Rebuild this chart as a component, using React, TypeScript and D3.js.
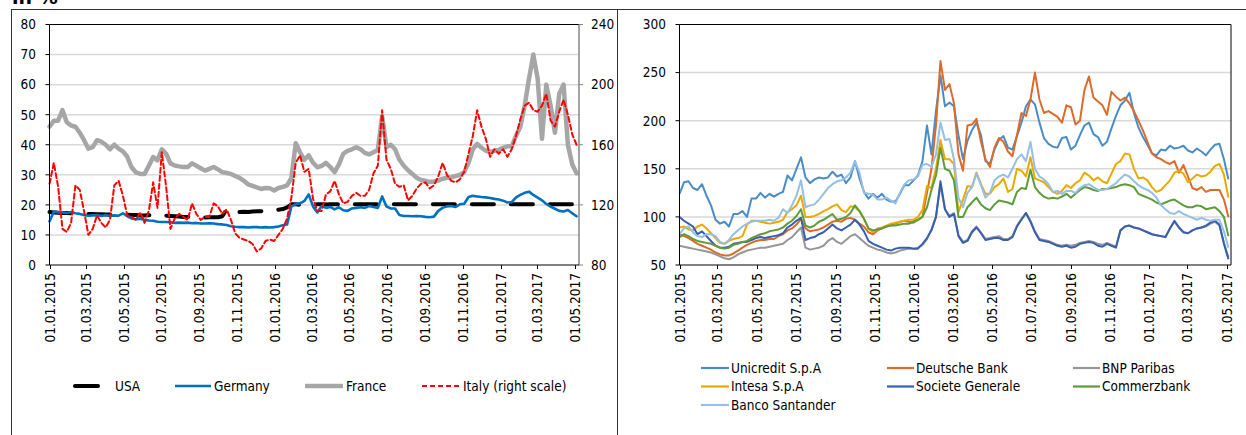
import React from "react";
import * as d3 from "d3";

// ---------- categories ----------
const firstWeek = "2015-01-01";
const weekCount = 123;
const axisEnd = "2017-05-08";
const xTickLabels = [
  "01.01.2015", "01.03.2015", "01.05.2015", "01.07.2015", "01.09.2015",
  "01.11.2015", "01.01.2016", "01.03.2016", "01.05.2016", "01.07.2016",
  "01.09.2016", "01.11.2016", "01.01.2017", "01.03.2017", "01.05.2017",
];
const leftTicks = [0, 10, 20, 30, 40, 50, 60, 70, 80];
const rightTicks = [80, 120, 160, 200, 240];
const bankTicks = [50, 100, 150, 200, 250, 300];

// ---------- left chart series (weekly) ----------
const usa = [
  17.6, 17.5, 17.4, 17.3, 17.3, 17.2, 17.2, 17.1, 17.0, 17.0,
  17.0, 16.9, 16.9, 16.8, 16.8, 16.8, 16.9, 16.8, 16.7, 16.6,
  16.6, 16.5, 16.5, 16.6, 16.5, 16.4, 16.5, 16.4, 16.3, 16.2,
  16.1, 16.0, 16.0, 16.1, 16.0, 15.8, 15.8, 15.9, 15.9, 15.9,
  16.2, 18.5, 17.6, 17.5, 17.6, 17.7, 17.6, 17.8, 17.9, 17.9,
  18.0, 18.1, 18.2, 18.4, 18.6, 19.2, 20.2, 20.2, 20.0, 20.0,
  20.1, 20.1, 20.2, 20.2, 20.1, 20.2, 20.2, 20.2, 20.2, 20.2,
  20.2, 20.2, 20.2, 20.2, 20.2, 20.2, 20.2, 20.2, 20.2, 20.2,
  20.2, 20.2, 20.2, 20.2, 20.2, 20.2, 20.2, 20.2, 20.2, 20.2,
  20.2, 20.2, 20.2, 20.2, 20.2, 20.2, 20.2, 20.2, 20.2, 20.2,
  20.2, 20.2, 20.2, 20.2, 20.2, 20.2, 20.2, 20.2, 20.2, 20.2,
  20.2, 20.2, 20.2, 20.2, 20.2, 20.2, 20.2, 20.2, 20.2, 20.2,
  20.2, 20.2, 20.2,
];
const germany = [
  14.5, 17.8, 17.5, 17.5, 17.3, 17.6, 17.2, 17.0, 16.6, 16.4,
  16.5, 16.6, 16.3, 16.6, 16.3, 16.5, 16.4, 17.2, 16.2, 15.5,
  15.2, 15.4, 15.0, 14.8, 14.7, 14.4, 14.3, 14.3, 14.2, 14.0,
  14.1, 14.0, 14.1, 13.9, 14.0, 13.8, 13.8, 13.9, 13.8, 13.6,
  13.5, 13.3, 12.9, 12.7, 12.6, 12.6, 12.5, 12.6, 12.6, 12.5,
  12.6, 12.5, 12.6, 12.8, 13.2, 13.5, 19.5, 20.2, 20.5, 21.3,
  23.5, 19.5, 17.5, 19.6, 19.0, 19.3, 18.5, 19.2, 18.2, 18.0,
  18.8, 19.0, 19.2, 19.0, 19.6, 19.3, 19.0, 22.8, 19.5, 18.8,
  18.8, 16.6, 16.3, 16.3, 16.2, 16.3, 16.2, 16.0, 15.9, 16.1,
  18.0, 19.0, 19.5, 19.6, 19.3, 20.2, 20.4, 22.6, 23.0, 22.8,
  22.6, 22.5, 22.3, 22.0, 21.8, 21.4, 20.8, 20.9, 22.5, 23.3,
  24.0, 24.4, 23.3, 22.4, 21.5, 20.3, 19.4, 18.7, 18.0, 17.8,
  18.3, 17.2, 16.2,
];
const france = [
  46, 48, 48, 51.5, 47.5, 46.4, 46, 44, 41.5, 38.7,
  39.2, 41.5, 41, 40, 38.5, 40, 38.7, 37.8, 36, 32.5,
  30.8, 30.3, 30.3, 33, 35.9, 34.8, 38.5, 37, 33.8, 33.1,
  32.8, 32.6, 32.6, 33.8, 33, 32.2, 31.4, 32, 32.6, 31.8,
  30.9, 30.6, 30.3, 29.6, 29, 28, 26.8, 26.3, 25.8, 25.3,
  25.6, 25.5, 24.8, 25.6, 26, 26.5, 29, 40.5, 37.5, 35,
  36.5, 34, 32.5, 33, 34, 32.6, 30.9, 33.5, 37, 38,
  38.5, 39.2, 38.5, 37.3, 36.8, 37.5, 38.3, 49.5, 39.2, 40,
  38.5, 35, 33, 31.5, 30.3, 29, 28.3, 28, 27.6, 27.8,
  28.1, 28.7, 29, 29.2, 29.6, 30, 30.9, 34, 38.5, 40.3,
  39, 38, 37.6, 38, 38.3, 39, 39.5, 39.5, 43, 46,
  53, 62, 70, 62, 42, 60, 53, 44, 57, 60,
  40, 33.5, 30.5,
];
const italy = [
  134, 148, 132, 104, 102, 108, 133, 130, 116, 100,
  104, 113, 108, 105, 110, 133, 136, 126, 113, 112,
  110, 115, 108, 116, 135, 118, 155, 132, 104, 111,
  114, 112, 110, 121, 114, 110, 112, 112, 121, 119,
  114, 117, 110, 101, 98, 97, 96, 94, 89, 91,
  96, 97, 96, 100, 104, 111, 125, 148, 153, 142,
  144, 124, 116, 116, 127, 129, 136, 127, 121, 122,
  126, 128, 126, 126, 130, 141, 146, 183, 150, 144,
  134, 132, 133, 123, 126, 131, 134, 135, 131, 133,
  139, 148, 140, 136, 135, 137, 142, 154, 166, 183,
  172, 164, 152, 157, 154, 157, 152, 157, 166, 177,
  186, 188, 183, 182, 186, 194, 176, 172, 182, 190,
  180, 167, 160,
];

// ---------- right chart series (weekly) ----------
const unicredit = [
  124, 136, 137, 130, 128, 134, 122, 112, 97, 93,
  95, 90, 103, 103, 106, 100, 119, 119, 125, 120,
  124, 121, 124, 126, 143, 138, 150, 162, 141, 135,
  139, 141, 140, 141, 147, 142, 144, 135, 141, 158,
  140, 126, 119, 124, 120, 124, 118, 116, 116, 124,
  133, 133, 138, 143, 158, 195, 165, 210, 247, 215,
  219, 215, 185, 160, 179, 190, 198, 185, 158, 155,
  170, 180, 184, 172, 170, 184, 198, 215, 222, 217,
  198, 182, 176, 173, 172, 182, 183, 170, 174, 185,
  195, 198, 186, 183, 174, 178, 192, 205, 216, 221,
  229, 208, 193, 183, 175, 166, 164, 170, 169, 174,
  171, 172, 174, 169, 167, 171, 168, 164, 170, 175,
  176, 160, 139,
];
const deutsche = [
  82, 80, 78, 75, 72, 70, 68, 66, 63, 61,
  60, 60, 62, 65, 68, 71, 73, 75, 76, 76,
  77, 77, 80, 82, 86, 88, 92, 98, 88, 85,
  86, 87, 89, 92, 95, 96, 95, 98, 99, 97,
  93, 90, 84, 82, 86, 88, 90, 92, 93, 95,
  96, 95, 94, 97, 100, 125, 150, 195, 262, 232,
  238, 218, 165, 148, 195, 196, 202, 178, 160, 152,
  172, 182, 178, 168, 163, 185, 208, 205, 222, 250,
  222, 208, 210, 207, 204, 198, 216, 214, 196, 200,
  232, 246, 224, 220, 216, 206, 230, 225, 221, 224,
  218, 210, 200, 190, 178, 166, 162, 160, 157, 155,
  158, 146, 154, 142, 130, 128, 131, 126, 128, 128,
  128, 118, 100,
];
const bnp = [
  70, 69, 68, 67, 66, 65, 64, 63, 61, 59,
  57, 56, 58, 61, 63, 65, 66, 67, 68, 68,
  69, 70, 71, 72, 76, 79, 84, 89, 68, 66,
  67, 68, 70, 75, 78, 74, 72, 76, 80, 82,
  78, 74, 70, 68, 66, 65, 63, 62, 63, 65,
  66, 67, 67, 68, 71, 77, 87, 100, 133, 108,
  101, 104, 81, 74, 76, 85, 90, 84, 77, 78,
  79, 80, 77, 77, 80, 91, 98, 104, 96, 85,
  77, 76, 75, 73, 71, 70, 71, 70, 71, 73,
  74, 75, 74, 72, 71, 73, 71, 69, 86, 90,
  91, 89, 88, 86, 84, 82, 81, 80, 79, 88,
  95, 89, 84, 83, 86, 88, 89, 90, 93, 95,
  91, 73, 58,
];
const intesa = [
  89, 90, 87, 86, 90, 92, 88, 83, 78, 73,
  72, 75, 77, 78, 80, 92, 96, 96, 95, 94,
  93, 94, 95, 97, 105, 108, 112, 122, 100, 100,
  101, 103, 106, 108, 111, 113, 107, 105, 111, 110,
  106, 98, 88, 84, 88, 89, 91, 93, 94, 95,
  96, 97, 97, 100, 107, 132, 130, 150, 180, 160,
  160, 155, 105, 118, 132, 131, 146, 134, 124, 124,
  131, 134, 140, 126, 129, 150, 148, 142, 162, 140,
  138, 136, 131, 126, 124, 127, 133, 130, 135, 138,
  146, 143, 138, 141, 137, 135, 145, 155, 158, 166,
  165, 150, 140, 141, 138, 131, 126, 128, 133, 138,
  146, 148, 145, 136, 140, 144, 142, 143, 147, 153,
  155, 144, 120,
];
const socgen = [
  100, 96, 93, 90, 82, 85, 80, 75, 70, 68,
  68, 69, 72, 73, 74, 74, 76, 78, 79, 78,
  79, 80, 81, 83, 89, 92, 96, 99, 76, 78,
  79, 82, 84, 88, 92, 88, 86, 89, 92, 97,
  92, 85, 75, 72, 70, 68, 66, 65, 67, 68,
  68, 68, 67, 67, 72, 78, 86, 100, 137, 108,
  100, 103, 80, 73, 75, 84, 89, 83, 76, 77,
  78, 78, 76, 76, 79, 90, 97, 104, 95, 84,
  76, 75, 74, 72, 70, 69, 70, 68, 69, 72,
  73, 74, 73, 70, 69, 72, 70, 68, 86, 90,
  91, 89, 88, 86, 84, 82, 81, 80, 79, 88,
  96, 89, 84, 83, 86, 88, 89, 91, 94, 96,
  92, 72, 56,
];
const commerz = [
  79, 82, 80, 77, 75, 74, 73, 72, 70, 68,
  67, 68, 71, 72, 74, 75, 78, 80, 82, 83,
  85, 86, 87, 89, 93, 96, 101, 108, 91, 89,
  91, 95, 97, 100, 103, 97, 98, 100, 104, 112,
  106, 98, 88, 86, 87, 88, 90, 91, 91, 92,
  93, 93, 95, 97, 100, 110, 128, 143, 172, 150,
  148, 138, 100, 100, 110, 115, 120, 113, 109, 107,
  113, 117, 116, 115, 113, 126, 130, 129, 149, 131,
  125, 121, 119, 120, 119, 121, 124, 120, 124, 128,
  131, 130, 128, 127, 129, 129, 130, 131, 133, 134,
  133, 131, 124, 122, 120, 118, 115, 113, 115, 117,
  118, 115, 112, 110, 110, 112, 111, 108, 109, 110,
  106, 100, 80,
];
const santander = [
  82, 88, 90, 84, 80, 79, 82, 82, 80, 74,
  72, 76, 82, 86, 90, 93, 95, 96, 96, 96,
  97, 96, 99, 108, 104, 112, 122, 138, 110, 112,
  113, 118, 124, 130, 134, 137, 138, 141, 146, 158,
  146, 125, 124, 123, 118, 118, 120, 117, 114, 125,
  134, 138, 139, 142, 154, 155, 152, 165, 198, 180,
  181, 160, 120, 110, 125, 131, 145, 133, 120, 125,
  138, 142, 144, 141, 150, 160, 165, 158, 178, 150,
  142, 139, 134, 126, 127, 124, 127, 127, 125, 130,
  133, 134, 131, 128, 128, 129, 132, 135, 140, 144,
  142, 137, 133, 130, 128, 125, 120, 112, 108, 104,
  103, 106, 103, 101, 99, 97, 99, 97, 96, 97,
  97, 85, 68,
];

const leftSeries = [
  { name: "USA", values: usa, color: "#000000", width: 4, dash: "22,17", axis: "left" },
  { name: "Germany", values: germany, color: "#0070C0", width: 2.6, dash: null, axis: "left" },
  { name: "France", values: france, color: "#A6A6A6", width: 4.5, dash: null, axis: "left" },
  { name: "Italy (right scale)", values: italy, color: "#FF0000", width: 2, dash: "5,3", axis: "right" },
];
const bankSeries = [
  { name: "Unicredit S.p.A", values: unicredit, color: "#4A8CC8" },
  { name: "Deutsche Bank", values: deutsche, color: "#DC6B2A" },
  { name: "BNP Paribas", values: bnp, color: "#969696" },
  { name: "Intesa S.p.A", values: intesa, color: "#E9AA00" },
  { name: "Societe Generale", values: socgen, color: "#375FB0" },
  { name: "Commerzbank", values: commerz, color: "#5E9C3A" },
  { name: "Banco Santander", values: santander, color: "#95BFE6" },
];

const parseIso = d3.timeParse("%Y-%m-%d");
const parseTick = d3.timeParse("%d.%m.%Y");
const start = parseIso(firstWeek) as Date;
const dates = d3.range(weekCount).map((i) => d3.timeDay.offset(start, 7 * i));
const tickDates = xTickLabels.map((l) => parseTick(l) as Date);
const domainX: [Date, Date] = [start, parseIso(axisEnd) as Date];

const FONT = "'DejaVu Sans Condensed', 'DejaVu Sans', sans-serif";
const textStyle: React.CSSProperties = { fontFamily: FONT, fontStretch: "condensed", fontSize: 13.5 };

const TOP = 24.5;
const BOTTOM = 265;

function XAxis({ x, y }: { x: d3.ScaleTime<number, number>; y: number }) {
  return (
    <g>
      {tickDates.map((d, i) => {
        const px = Math.round(x(d)) + 0.5;
        return (
          <g key={i}>
            <line x1={px} x2={px} y1={y} y2={y + 4} stroke="#000" />
            <text
              transform={`translate(${px},${y + 8}) rotate(-90)`}
              textAnchor="end"
              dy="0.36em"
              style={textStyle}
            >
              {xTickLabels[i]}
            </text>
          </g>
        );
      })}
    </g>
  );
}

function LeftChart() {
  const x0 = 49.5, x1 = 579;
  const x = d3.scaleTime().domain(domainX).range([x0, x1]);
  const yL = d3.scaleLinear().domain([0, 80]).range([BOTTOM, TOP]);
  const yR = d3.scaleLinear().domain([80, 240]).range([BOTTOM, TOP]);
  return (
    <g>
      {leftTicks.slice(1, -1).map((t) => (
        <line key={t} x1={x0} x2={x1} y1={yL(t)} y2={yL(t)} stroke="#D9D9D9" strokeWidth={1.5} />
      ))}
      {leftSeries.map((s) => {
        const ys = s.axis === "left" ? yL : yR;
        const path = d3
          .line<number>()
          .x((_, i) => x(dates[i]))
          .y((v) => ys(v))(s.values) as string;
        return (
          <path
            key={s.name}
            d={path}
            fill="none"
            stroke={s.color}
            strokeWidth={s.width}
            strokeDasharray={s.dash || undefined}
            strokeLinejoin="round"
            strokeLinecap={s.dash ? "round" : "round"}
          />
        );
      })}
      <line x1={x0} x2={x1} y1={TOP} y2={TOP} stroke="#000" />
      <line x1={x1} x2={x1} y1={TOP} y2={BOTTOM} stroke="#868686" strokeWidth={1.5} />
      <line x1={x0} x2={x0} y1={TOP} y2={BOTTOM} stroke="#000" />
      <line x1={x0} x2={x1} y1={BOTTOM} y2={BOTTOM} stroke="#000" />
      {leftTicks.map((t) => (
        <g key={t}>
          <line x1={x0 - 4} x2={x0} y1={yL(t)} y2={yL(t)} stroke="#000" />
          <text x={36} y={yL(t)} dy="0.36em" textAnchor="end" style={textStyle}>{t}</text>
        </g>
      ))}
      {rightTicks.map((t) => (
        <g key={t}>
          <line x1={x1} x2={x1 + 4} y1={yR(t)} y2={yR(t)} stroke="#868686" />
          <text x={591} y={yR(t)} dy="0.36em" textAnchor="start" style={textStyle}>{t}</text>
        </g>
      ))}
      <XAxis x={x} y={BOTTOM} />
      {/* legend */}
      {leftSeries.map((s, i) => {
        const sx = [75, 175, 305, 422][i];
        const ex = [112, 211, 343, 461][i];
        const tx = [115, 214, 346, 463][i];
        const ly = 386;
        return (
          <g key={s.name}>
            <line x1={sx} x2={ex} y1={ly} y2={ly} stroke={s.color} strokeWidth={s.width}
              strokeDasharray={s.name === "USA" ? "23,30" : s.dash || undefined}
              strokeLinecap={s.name === "USA" ? "round" : "butt"} />
            <text x={tx} y={ly} dy="0.36em" style={textStyle}>{s.name}</text>
          </g>
        );
      })}
    </g>
  );
}

function RightChart() {
  const x0 = 679.5, x1 = 1231;
  const x = d3.scaleTime().domain(domainX).range([x0, x1]);
  const y = d3.scaleLinear().domain([50, 300]).range([BOTTOM, TOP]);
  const cols = [[701, 729, 731], [887, 914, 916], [1073, 1100, 1102]];
  const rows = [368, 386.5, 405];
  return (
    <g>
      {bankTicks.slice(1, -1).map((t) => (
        <line key={t} x1={x0} x2={x1} y1={y(t)} y2={y(t)} stroke="#D9D9D9" strokeWidth={1.5} />
      ))}
      {bankSeries.map((s) => {
        const path = d3
          .line<number>()
          .x((_, i) => x(dates[i]))
          .y((v) => y(v))(s.values) as string;
        return (
          <path key={s.name} d={path} fill="none" stroke={s.color} strokeWidth={2} strokeLinejoin="round" />
        );
      })}
      <line x1={x0} x2={x1} y1={TOP} y2={TOP} stroke="#000" />
      <line x1={x1} x2={x1} y1={TOP} y2={BOTTOM} stroke="#000" />
      <line x1={x0} x2={x0} y1={TOP} y2={BOTTOM} stroke="#000" />
      <line x1={x0} x2={x1} y1={BOTTOM} y2={BOTTOM} stroke="#000" />
      {bankTicks.map((t) => (
        <g key={t}>
          <line x1={x0 - 4} x2={x0} y1={y(t)} y2={y(t)} stroke="#000" />
          <text x={666} y={y(t)} dy="0.36em" textAnchor="end" style={textStyle}>{t}</text>
        </g>
      ))}
      <XAxis x={x} y={BOTTOM} />
      {bankSeries.map((s, i) => {
        const c = cols[i % 3];
        const ly = rows[Math.floor(i / 3)];
        return (
          <g key={s.name}>
            <line x1={c[0]} x2={c[1]} y1={ly} y2={ly} stroke={s.color} strokeWidth={2.2} />
            <text x={c[2]} y={ly} dy="0.36em" style={textStyle}>{s.name}</text>
          </g>
        );
      })}
    </g>
  );
}

export default function App() {
  return (
    <svg
      width={1246}
      height={435}
      style={{ position: "absolute", left: 0, top: 0, background: "#fff" }}
    >
      <rect x={0} y={0} width={1246} height={435} fill="#fff" />
      <text x={12} y={3.5} style={{ fontFamily: "'DejaVu Sans', sans-serif", fontWeight: "bold", fontSize: 19 }}>in %</text>
      <line x1={11} x2={1246} y1={9.5} y2={9.5} stroke="#333" />
      <line x1={11.5} x2={11.5} y1={9} y2={435} stroke="#333" />
      <line x1={617.5} x2={617.5} y1={9} y2={435} stroke="#333" />
      <LeftChart />
      <RightChart />
    </svg>
  );
}
